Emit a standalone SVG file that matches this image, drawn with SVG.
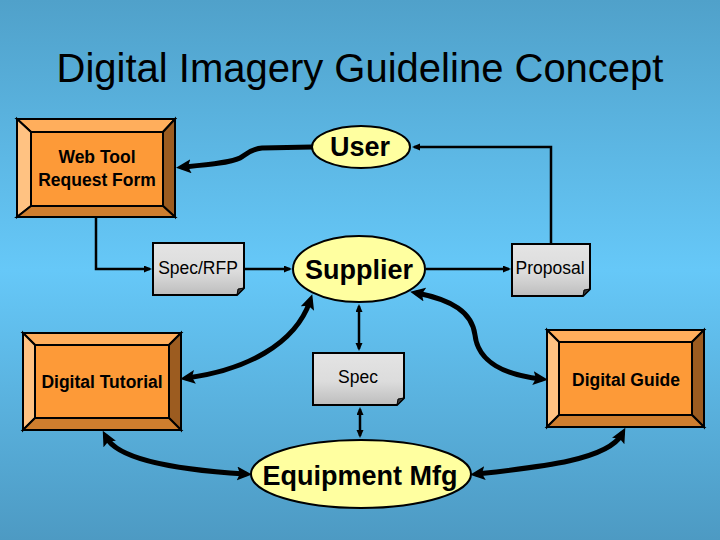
<svg xmlns="http://www.w3.org/2000/svg" width="720" height="540" viewBox="0 0 720 540">
<defs>
<linearGradient id="bg" x1="0" y1="0" x2="0" y2="1">
<stop offset="0" stop-color="#50a1ca"/>
<stop offset="0.5" stop-color="#66c8f8"/>
<stop offset="1" stop-color="#4d9ac3"/>
</linearGradient>
<linearGradient id="doc" x1="0" y1="0" x2="0" y2="1">
<stop offset="0" stop-color="#e4e4e4"/>
<stop offset="0.55" stop-color="#dcdcdc"/>
<stop offset="1" stop-color="#bdbdbd"/>
</linearGradient>
<marker id="big" markerUnits="userSpaceOnUse" markerWidth="18" markerHeight="16" refX="8" refY="7" orient="auto-start-reverse" viewBox="0 0 18 16">
<path d="M0,0 L15,7 L0,14 L3,7 Z" fill="#000"/>
</marker>
<marker id="sm" markerUnits="userSpaceOnUse" markerWidth="10" markerHeight="8" refX="6" refY="3.5" orient="auto-start-reverse" viewBox="0 0 10 8">
<path d="M0,0 L8,3.5 L0,7 Z" fill="#000"/>
</marker>
<style>
.bev{stroke:#000;stroke-width:2;stroke-linejoin:miter}
.t{fill:#ffae5c}.l{fill:#ffc282}.r{fill:#9c5c20}.b{fill:#cf7e2e}.f{fill:#fd9a38}
.docb{fill:url(#doc);stroke:#000;stroke-width:2}
.fold{fill:#333;stroke:#000;stroke-width:1}
.ell{fill:#ffffa0;stroke:#000;stroke-width:2}
.thin{fill:none;stroke:#000;stroke-width:2.5}
.thick{fill:none;stroke:#000;stroke-width:5;stroke-linecap:round}
.bl{font-family:"Liberation Sans",Arial,sans-serif;font-weight:bold;font-size:17.5px;fill:#000;text-anchor:middle}
.dl{font-family:"Liberation Sans",Arial,sans-serif;font-size:17.5px;fill:#000;text-anchor:middle}
.el{font-family:"Liberation Sans",Arial,sans-serif;font-weight:bold;font-size:27px;fill:#000;text-anchor:middle}
</style>
</defs>
<rect width="720" height="540" fill="url(#bg)"/>
<text x="360" y="82" font-family="Liberation Sans, Arial, sans-serif" font-size="40" text-anchor="middle" fill="#000">Digital Imagery Guideline Concept</text>

<g id="connectors">
<path class="thin" d="M96,217 V269 H150" marker-end="url(#sm)"/>
<path class="thin" d="M244,269 H290" marker-end="url(#sm)"/>
<path class="thin" d="M426,269 H509" marker-end="url(#sm)"/>
<path class="thin" d="M551,244 V147 H414" marker-end="url(#sm)"/>
<path class="thin" d="M359,306 V349" marker-start="url(#sm)" marker-end="url(#sm)"/>
<path class="thin" d="M360,409 V436" marker-start="url(#sm)" marker-end="url(#sm)"/>
<path class="thick" d="M312,147 L262,148 C250,149 246,155 240,158 C230,163 205,165 183,167" marker-end="url(#big)"/>
<path class="thick" d="M310,301 C295,345 245,370 187,378" marker-start="url(#big)" marker-end="url(#big)"/>
<path class="thick" d="M417,293 C452,300 472,312 475,335 C478,362 505,375 541,379" marker-start="url(#big)" marker-end="url(#big)"/>
<path class="thick" d="M106,437 C118,460 180,470 245,474" marker-start="url(#big)" marker-end="url(#big)"/>
<path class="thick" d="M622,434 C608,460 540,467 477,474" marker-start="url(#big)" marker-end="url(#big)"/>
</g>

<g id="webtool">
<polygon class="bev t" points="17,119 175,119 163,132 31,132"/>
<polygon class="bev l" points="17,119 31,132 31,206 17,217"/>
<polygon class="bev r" points="175,119 175,217 163,206 163,132"/>
<polygon class="bev b" points="17,217 31,206 163,206 175,217"/>
<rect class="bev f" x="31" y="132" width="132" height="74"/>
<text class="bl" x="97" y="163">Web Tool</text>
<text class="bl" x="97" y="186">Request Form</text>
</g>

<g id="tutorial">
<polygon class="bev t" points="23,333 181,333 169,345 35,345"/>
<polygon class="bev l" points="23,333 35,345 35,418 23,430"/>
<polygon class="bev r" points="181,333 181,430 169,418 169,345"/>
<polygon class="bev b" points="23,430 35,418 169,418 181,430"/>
<rect class="bev f" x="35" y="345" width="134" height="73"/>
<text class="bl" x="102" y="388">Digital Tutorial</text>
</g>

<g id="guide">
<polygon class="bev t" points="547,330 704,330 692,342 559,342"/>
<polygon class="bev l" points="547,330 559,342 559,415 547,427"/>
<polygon class="bev r" points="704,330 704,427 692,415 692,342"/>
<polygon class="bev b" points="547,427 559,415 692,415 704,427"/>
<rect class="bev f" x="559" y="342" width="133" height="73"/>
<text class="bl" x="626" y="386">Digital Guide</text>
</g>

<g id="user">
<ellipse class="ell" cx="361" cy="147" rx="49" ry="21"/>
<text class="el" x="360" y="156">User</text>
</g>

<g id="supplier">
<ellipse class="ell" cx="359" cy="269" rx="66" ry="33"/>
<text class="el" x="359" y="279">Supplier</text>
</g>

<g id="equipment">
<ellipse class="ell" cx="361" cy="474" rx="110" ry="34"/>
<text class="el" x="360" y="485">Equipment Mfg</text>
</g>

<g id="specrfp">
<path class="docb" d="M153,243 H244 V288 L237,295 H153 Z"/>
<polygon class="fold" points="244,288 237,295 238,289"/>
<text class="dl" x="198" y="274">Spec/RFP</text>
</g>

<g id="proposal">
<path class="docb" d="M512,244 H590 V289 L583,296 H512 Z"/>
<polygon class="fold" points="590,289 583,296 584,290"/>
<text class="dl" x="550" y="274">Proposal</text>
</g>

<g id="spec">
<path class="docb" d="M313,353 H404 V398 L397,405 H313 Z"/>
<polygon class="fold" points="404,398 397,405 398,399"/>
<text class="dl" x="358" y="383">Spec</text>
</g>
</svg>
